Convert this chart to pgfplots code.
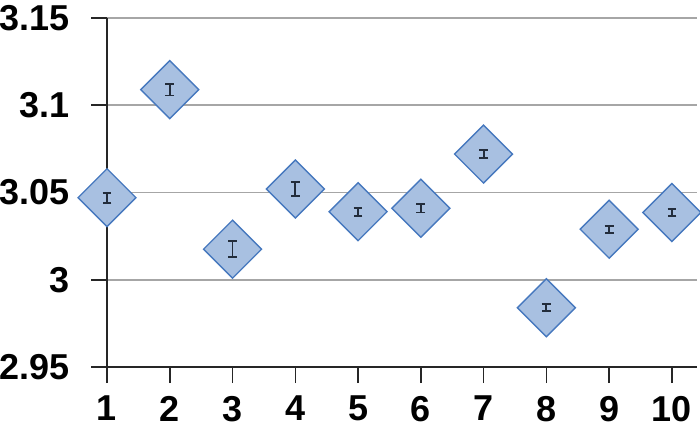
\documentclass[border=0pt]{standalone}
\usepackage{fontspec}
\setmainfont{Liberation Sans}
\usepackage{pgfplots}
\pgfplotsset{compat=1.18}
\definecolor{dfill}{RGB}{168,192,225}
\definecolor{dedge}{RGB}{70,120,190}
\definecolor{ebar}{RGB}{35,45,60}
\pgfplotstableread{
x y e
1 3.047 0.0029
2 3.109 0.0034
3 3.0175 0.0045
4 3.052 0.004
5 3.039 0.0023
6 3.041 0.0025
7 3.072 0.0022
8 2.984 0.002
9 3.029 0.002
10 3.0385 0.002
}\data
\begin{document}
\begin{tikzpicture}
\begin{axis}[
  set layers,
  scale only axis,
  width=295pt, height=174.5pt,
  xmin=1, xmax=10.4,
  ymin=2.95, ymax=3.15,
  xtick={1,2,...,10},
  ytick={2.95,3,3.05,3.1,3.15},
  axis x line*=bottom, axis y line*=left,
  axis line style={line width=0.8pt, black!85},
  tick align=outside,
  major tick length=8pt,
  every tick/.append style={black!85, line width=0.8pt},
  ymajorgrids,
  grid style={line width=0.8pt, gray!70},
  /pgf/number format/assume math mode=true,
  tick label style={font=\bfseries\fontsize{18}{21}\selectfont},
  yticklabel style={/pgf/number format/fixed, xshift=-7pt},
  xticklabel style={yshift=-3pt},
]
\addplot[only marks, mark=square*, mark size=10.25pt,
  mark options={rotate=45, fill=dfill, draw=dedge, line width=0.7pt}]
table[x=x, y=y] {\data};
\addplot[draw=none, mark=none, forget plot, on layer=axis foreground,
  error bars/y dir=both, error bars/y explicit,
  error bars/error bar style={draw=ebar, solid, line width=0.9pt},
  error bars/error mark options={draw=ebar, solid, line width=0.9pt, mark size=2.2pt, rotate=90}]
table[x=x, y=y, y error=e] {\data};
\end{axis}
\pgfresetboundingbox
\path[use as bounding box] ([shift={(-53.5pt,-31pt)}]current axis.south west) rectangle ([shift={(1.5pt,9pt)}]current axis.north east);
\end{tikzpicture}
\end{document}
